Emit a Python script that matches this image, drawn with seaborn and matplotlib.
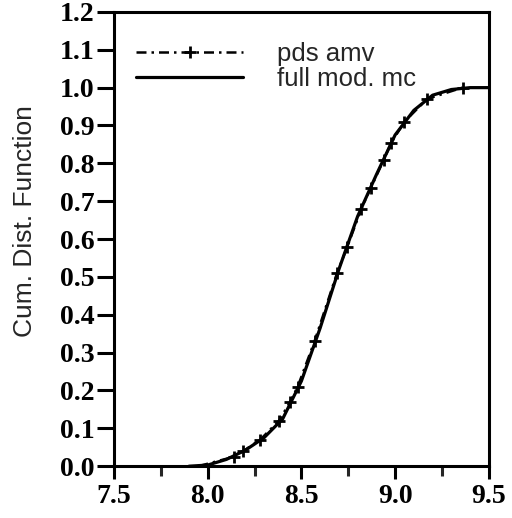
import matplotlib
matplotlib.use("Agg")
import matplotlib.pyplot as plt
import numpy as np
import pandas as pd
import seaborn as sns
from matplotlib.ticker import MultipleLocator

# pds amv (points carry "+" markers)
amv_x = [7.95, 8.14, 8.19, 8.28, 8.38, 8.44, 8.48, 8.57, 8.69, 8.745,
         8.82, 8.87, 8.94, 8.98, 9.05, 9.17, 9.36]
amv_y = [0.0, 0.025, 0.04, 0.07, 0.12, 0.17, 0.21, 0.33, 0.51, 0.58,
         0.68, 0.735, 0.81, 0.855, 0.91, 0.97, 1.0]

# full mod. mc
mc_x = [7.9, 8.0, 8.1, 8.2, 8.3, 8.4, 8.5, 8.6, 8.7, 8.8, 8.9, 9.0, 9.1,
        9.2, 9.3, 9.4, 9.5]
mc_y = [0.0, 0.003, 0.018, 0.042, 0.075, 0.125, 0.225, 0.365, 0.52, 0.66,
        0.77, 0.875, 0.94, 0.98, 0.995, 1.0, 1.0]

x_ticks = [7.5, 8.0, 8.5, 9.0, 9.5]
y_ticks = np.round(np.arange(0, 1.21, 0.1), 1)

sns.set_style("white")
plt.rcParams['font.family'] = ['Liberation Serif', 'DejaVu Serif']

fig = plt.figure(figsize=(5.12, 5.18), dpi=100)
ax = fig.add_axes([0.2227, 0.100, 0.732, 0.877])

df_amv = pd.DataFrame({"x": amv_x, "y": amv_y})
df_mc = pd.DataFrame({"x": mc_x, "y": mc_y})

sns.lineplot(data=df_amv, x="x", y="y", ax=ax, estimator=None, sort=False,
             color="black", linewidth=1.8, linestyle=(0, (4, 2, 1, 2)),
             marker="+", markersize=8, markeredgewidth=2,
             markeredgecolor="black", markevery=list(range(1, len(amv_x))),
             label="pds amv")
sns.lineplot(data=df_mc, x="x", y="y", ax=ax, estimator=None, sort=False,
             color="black", linewidth=2.3, label="full mod. mc")

ax.set_xlim(7.5, 9.5)
ax.set_ylim(0, 1.2)
ax.set_xticks(x_ticks)
ax.set_xticklabels(["{:.1f}".format(v) for v in x_ticks])
ax.xaxis.set_minor_locator(MultipleLocator(0.25))
ax.set_yticks(y_ticks)
ax.set_yticklabels(["{:.1f}".format(v) for v in y_ticks])

ax.tick_params(axis="both", which="major", direction="out", width=2.2,
               labelsize=20, colors="black")
ax.tick_params(axis="x", which="major", length=9, bottom=True, pad=4)
ax.tick_params(axis="x", which="minor", length=7, width=2.2, bottom=True)
ax.tick_params(axis="y", which="major", length=12, left=True, pad=2)
for lab in ax.get_xticklabels() + ax.get_yticklabels():
    lab.set_fontweight("bold")

for side in ["left", "bottom", "right", "top"]:
    ax.spines[side].set_visible(True)
    ax.spines[side].set_color("black")
    ax.spines[side].set_linewidth(2.2)

ax.set_xlabel("")
ax.set_ylabel("Cum. Dist. Function", fontsize=19, family="Liberation Sans")
ax.yaxis.set_label_coords(-0.205, 0.54)

leg = ax.legend(loc="upper left", bbox_to_anchor=(0.03, 0.956), frameon=False,
                handlelength=4.2, handletextpad=1.3, borderaxespad=0,
                labelspacing=0.05,
                prop={"family": "Liberation Sans", "size": 18.5})

fig.savefig("out.png", dpi=100)
